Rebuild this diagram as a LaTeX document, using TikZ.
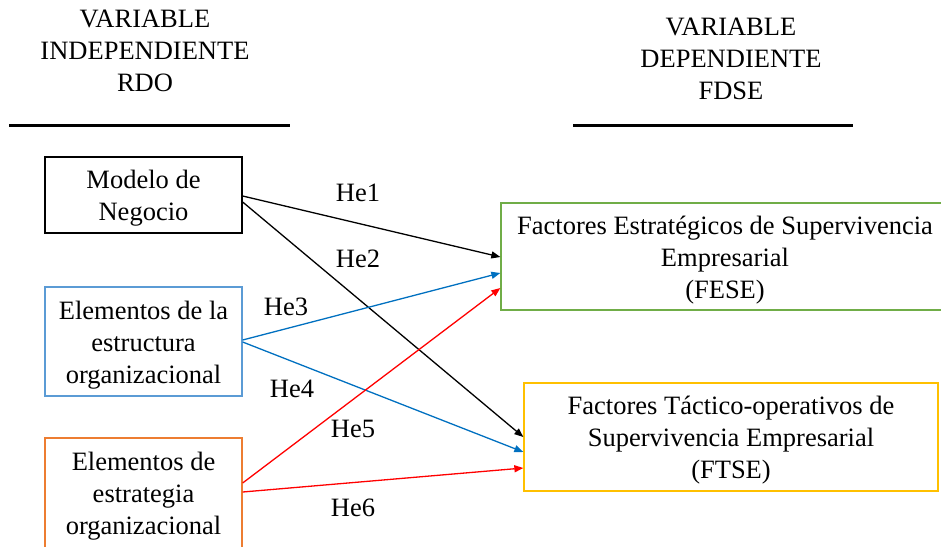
\documentclass[tikz,border=0pt]{standalone}
\usepackage{fontspec}
\setmainfont{Liberation Serif}
\usetikzlibrary{arrows.meta}
\definecolor{cblue}{HTML}{5B9BD5}
\definecolor{cablue}{HTML}{0070C0}
\definecolor{corange}{HTML}{ED7D31}
\definecolor{cgreen}{HTML}{70AD47}
\definecolor{cgold}{HTML}{FFC000}
\definecolor{cred}{HTML}{FF0000}
\begin{document}
\begin{tikzpicture}[x=1pt,y=-1pt,
  txt/.style={font=\fontsize{26.5}{32}\selectfont, align=center, inner sep=0pt},
  box/.style={draw, line width=1.3pt, inner sep=0pt, minimum width=#1},
  conn/.style={line width=1.3pt, -{Triangle[length=9pt,width=7pt]}},
  lbl/.style={txt}]
\useasboundingbox (0,0) rectangle (941,546);
% headers
\node[txt] (hl) at (145,51) {VARIABLE\\INDEPENDIENTE\\RDO};
\node[txt] (hr) at (731,58.5) {VARIABLE\\DEPENDIENTE\\FDSE};
\coordinate (hla) at (9,125);
\coordinate (hlb) at (290,125);
\coordinate (hra) at (573,125);
\coordinate (hrb) at (853,125);
\draw[line width=3pt] (hla) -- (hlb);
\draw[line width=3pt] (hra) -- (hrb);
% left boxes
\node[box=197pt, minimum height=76pt] (mn) at (143.5,195) {};
\node[txt] (mnt) at ([yshift=-3.5pt]mn.center) {Modelo de\\Negocio};
\node[box=197pt, minimum height=109pt, draw=cblue] (ee) at (143.5,341.5) {};
\node[txt] (eet) at ([yshift=-3.5pt]ee.center) {Elementos de la\\estructura\\organizacional};
\node[box=197pt, minimum height=110pt, draw=corange] (es) at (143.5,493) {};
\node[txt] (est) at ([yshift=-3.5pt]es.center) {Elementos de\\estrategia\\organizacional};
% right boxes
\node[box=448pt, minimum height=107pt, draw=cgreen] (fese) at (725,256.5) {};
\node[txt] (feset) at ([yshift=-3.5pt]fese.center) {Factores Estratégicos de Supervivencia\\Empresarial\\(FESE)};
\node[box=414pt, minimum height=108pt, draw=cgold] (ftse) at (731,437) {};
\node[txt] (ftset) at ([yshift=-3.5pt]ftse.center) {Factores Táctico-operativos de\\Supervivencia Empresarial\\(FTSE)};
% connectors
\draw[conn] ([yshift=-1pt]mn.east) -- ([yshift=-0.5pt]fese.west);
\draw[conn] ([yshift=-7pt]mn.east) -- ([yshift=0pt]ftse.west);
\draw[conn, cablue] ([yshift=1.5pt]ee.east) -- ([yshift=-16.5pt]fese.west);
\draw[conn, cablue] ([yshift=-0.5pt]ee.east) -- ([yshift=-15pt]ftse.west);
\draw[conn, cred] ([yshift=10pt]es.east) -- ([yshift=-31.5pt]fese.west);
\draw[conn, cred] ([yshift=1pt]es.east) -- ([yshift=-31pt]ftse.west);
% labels
\node[lbl] (l1) at (358,193) {He1};
\node[lbl] (l2) at (358,259) {He2};
\node[lbl] (l3) at (286,307) {He3};
\node[lbl] (l4) at (292,389) {He4};
\node[lbl] (l5) at (353,429) {He5};
\node[lbl] (l6) at (353,508) {He6};
\end{tikzpicture}
\end{document}
